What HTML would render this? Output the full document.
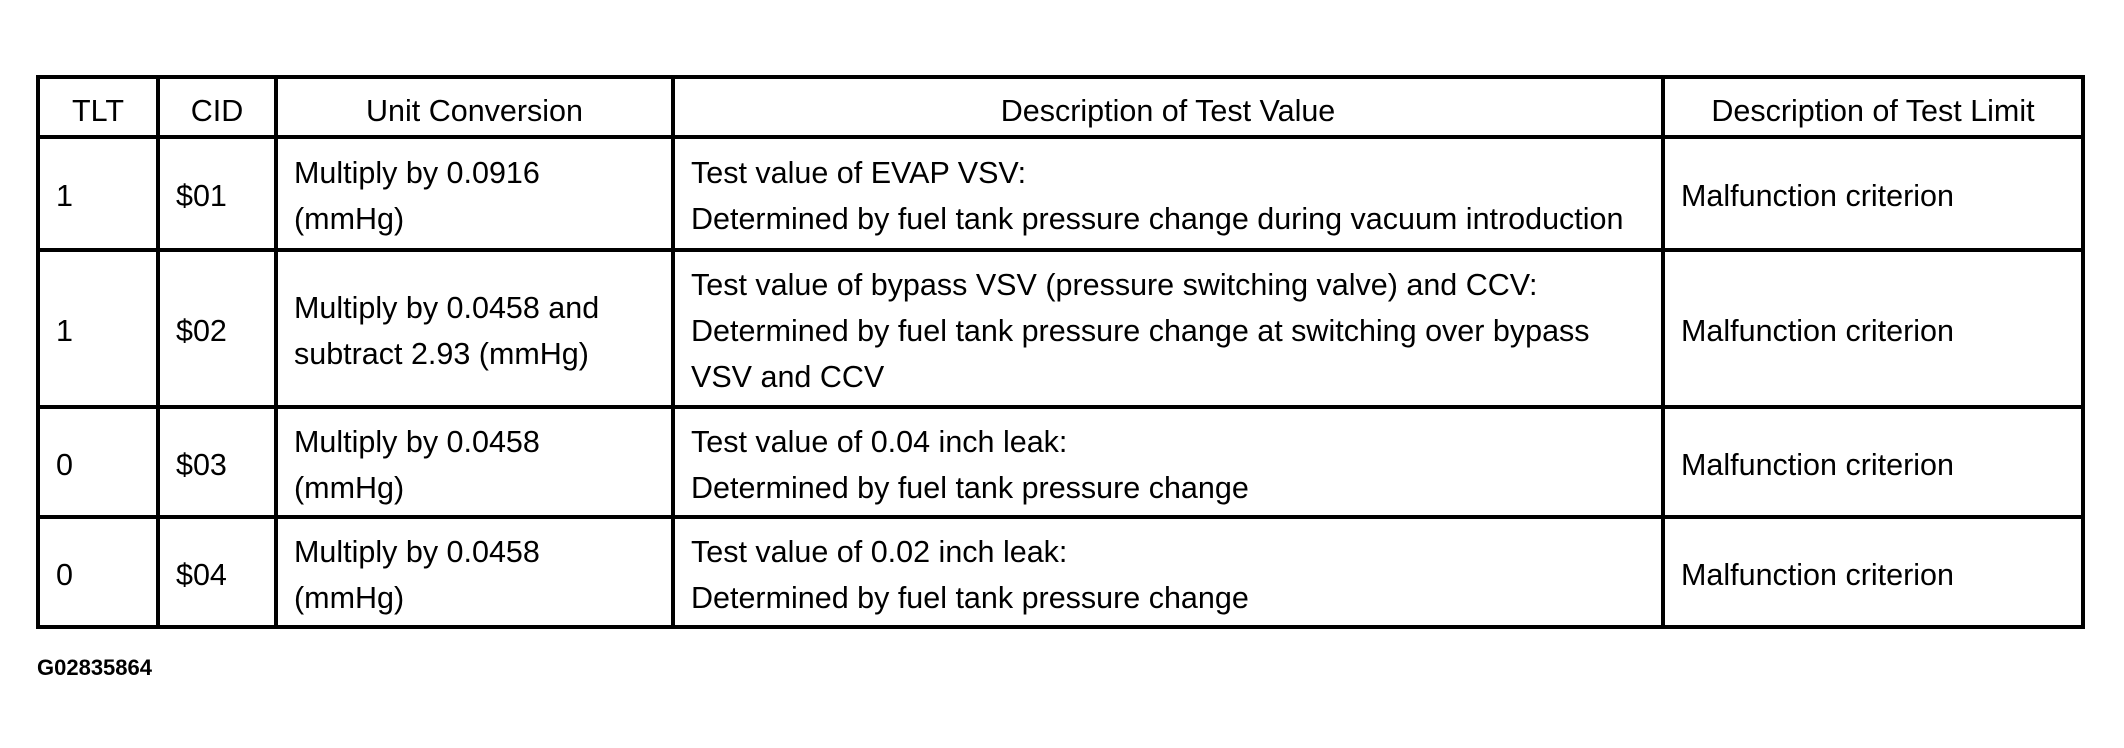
<!DOCTYPE html>
<html><head><meta charset="utf-8"><style>
html,body{margin:0;padding:0;background:#fff;width:2124px;height:748px;overflow:hidden;}
body{font-family:"Liberation Sans",Arial,sans-serif;color:#000;}
table{position:absolute;left:36px;top:75px;border-collapse:collapse;table-layout:fixed;width:2049px;}
td{border:4px solid #000;padding:5px 0 0 16px;font-size:30.5px;line-height:46px;vertical-align:middle;white-space:nowrap;overflow:hidden;}
td.h{text-align:center;padding:8px 0 0 0;}
#g{position:absolute;left:37px;top:655px;font-size:22px;font-weight:bold;}
</style></head><body>
<table>
<colgroup><col style="width:120px"><col style="width:118px"><col style="width:397px"><col style="width:990px"><col style="width:420px"></colgroup>
<tr style="height:60px"><td class="h">TLT</td><td class="h">CID</td><td class="h">Unit Conversion</td><td class="h">Description of Test Value</td><td class="h">Description of Test Limit</td></tr>
<tr style="height:113px"><td>1</td><td>$01</td><td>Multiply by 0.0916<br>(mmHg)</td><td>Test value of EVAP VSV:<br>Determined by fuel tank pressure change during vacuum introduction</td><td>Malfunction criterion</td></tr>
<tr style="height:157px"><td>1</td><td>$02</td><td>Multiply by 0.0458 and<br>subtract 2.93 (mmHg)</td><td>Test value of bypass VSV (pressure switching valve) and CCV:<br>Determined by fuel tank pressure change at switching over bypass<br>VSV and CCV</td><td>Malfunction criterion</td></tr>
<tr style="height:110px"><td>0</td><td>$03</td><td>Multiply by 0.0458<br>(mmHg)</td><td>Test value of 0.04 inch leak:<br>Determined by fuel tank pressure change</td><td>Malfunction criterion</td></tr>
<tr style="height:110px"><td>0</td><td>$04</td><td>Multiply by 0.0458<br>(mmHg)</td><td>Test value of 0.02 inch leak:<br>Determined by fuel tank pressure change</td><td>Malfunction criterion</td></tr>
</table>
<div id="g">G02835864</div>
</body></html>
